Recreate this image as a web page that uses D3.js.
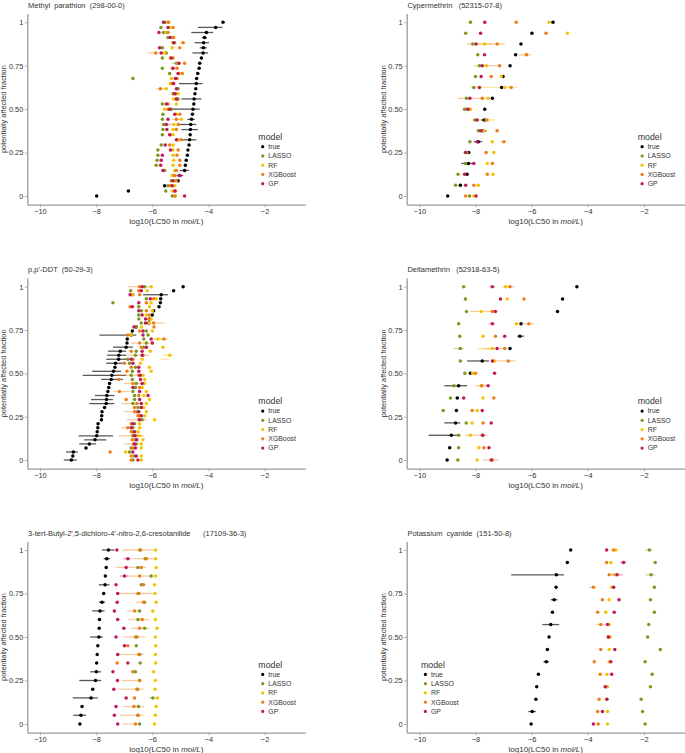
<!DOCTYPE html>
<html><head><meta charset="utf-8">
<script src="https://cdn.jsdelivr.net/npm/d3@7"></script>
<style>
body{margin:0;background:#fff}
text{font-family:"Liberation Sans",Arial,sans-serif}
</style>
</head><body>
<svg id="c" width="685" height="753"></svg>
<script>
// ---------- shared ----------
const models = ["true","LASSO","RF","XGBoost","GP"];
const modelColors = ["#000000","#7a9a1e","#f5c400","#f07e18","#c2185b"];
const xTicks = [-10,-8,-6,-4,-2];
const yTicks = [0,0.25,0.5,0.75,1];
const yTickLabels = ["0","0.25","0.50","0.75","1"];
const xDomain = [-10,-1];
const yDomain = [0,1];

// ---------- panel 1: Methyl parathion (rows listed top -> bottom) ----------
const p1_title = "Methyl  parathion  (298-00-0)";
const p1_true  = [-3.48,-3.74,-4.07,-4.14,-4.17,-4.18,-4.19,-4.25,-4.31,-4.33,-4.38,-4.42,-4.43,-4.45,-4.48,-4.51,-4.52,-4.55,-4.57,-4.60,-4.63,-4.64,-4.65,-4.67,-4.69,-4.73,-4.75,-4.79,-4.82,-4.85,-5.02,-5.08,-5.56,-6.85,-7.98];
const p1_lasso = [-5.54,-5.69,-5.60,-5.44,-5.20,-5.64,-5.50,-5.64,-5.14,-5.64,-5.38,-6.69,-5.26,-5.08,-5.26,-5.08,-5.64,-5.32,-5.62,-5.64,-5.60,-5.62,-5.64,-5.08,-5.68,-5.80,-5.80,-5.83,-5.86,-5.56,-5.26,-5.32,-5.44,-5.52,-5.29];
const p1_rf    = [-5.44,-5.38,-5.50,-5.26,-5.26,-5.29,-5.56,-5.36,-5.08,-5.29,-5.05,-5.32,-5.35,-5.50,-5.08,-5.24,-5.14,-5.56,-5.14,-4.96,-5.23,-5.26,-5.26,-5.08,-5.26,-5.26,-5.26,-5.24,-5.26,-5.20,-5.29,-5.17,-5.20,-5.29,-5.17];
const p1_xgb   = [-5.42,-5.26,-5.44,-5.24,-4.90,-5.02,-5.88,-5.26,-4.85,-5.12,-4.93,-5.12,-5.29,-5.71,-5.17,-5.14,-5.44,-5.44,-5.02,-5.14,-5.08,-5.14,-5.36,-4.96,-5.38,-5.08,-5.12,-5.02,-5.02,-5.14,-5.20,-5.14,-5.36,-5.17,-5.20];
const p1_gp    = [-5.60,-5.44,-5.76,-5.36,-5.24,-5.74,-5.68,-5.33,-5.05,-5.26,-5.08,-5.17,-5.24,-5.14,-5.20,-5.14,-5.50,-5.38,-5.20,-5.44,-5.50,-5.48,-5.38,-5.14,-5.54,-5.35,-5.64,-5.68,-5.70,-5.62,-5.02,-5.26,-5.29,-5.20,-4.85];
const p1_bars  = [["true",1,-4.37,-3.50],["true",2,-4.61,-3.83],["true",3,-4.23,-4.05],["true",4,-4.49,-3.98],["true",5,-4.31,-4.05],["true",6,-4.57,-4.01],["true",12,-5.05,-4.21],["true",15,-4.96,-4.25],["true",17,-5.38,-4.31],["true",19,-4.75,-4.49],["true",20,-5.08,-4.43],["true",21,-4.96,-4.37],["true",23,-5.08,-4.43],["true",29,-5.02,-4.69],["true",30,-5.14,-4.90],["XGBoost",6,-6.15,-5.56],["XGBoost",4,-5.02,-4.80],["XGBoost",13,-5.85,-5.55],["XGBoost",19,-5.30,-4.98],["GP",20,-5.62,-5.30],["LASSO",8,-5.30,-5.00],["RF",10,-5.15,-4.95],["GP",11,-5.25,-5.05]];

// ---------- panel 2: Cypermethrin ----------
const p2_title = "Cypermethrin   (52315-07-8)";
const p2_true  = [-5.24,-5.99,-6.38,-6.57,-6.77,-7.02,-7.07,-7.40,-7.67,-7.69,-7.73,-7.90,-8.24,-8.25,-8.30,-8.54,-8.99];
const p2_lasso = [-8.18,-8.35,-8.10,-7.92,-7.86,-8.00,-8.06,-8.32,-8.39,-8.02,-7.90,-8.20,-8.30,-8.36,-8.62,-8.71,-8.21];
const p2_rf    = [-5.38,-4.73,-7.68,-6.20,-7.61,-7.08,-6.95,-7.55,-8.18,-7.58,-7.70,-7.40,-7.35,-7.58,-7.37,-7.90,-8.06];
const p2_xgb   = [-6.55,-5.49,-7.23,-6.18,-7.14,-7.44,-6.73,-7.76,-8.24,-7.62,-7.23,-6.99,-7.62,-7.40,-7.58,-8.06,-8.35];
const p2_gp    = [-7.67,-7.82,-7.98,-7.68,-7.76,-7.80,-7.86,-8.20,-8.28,-7.94,-7.82,-7.94,-8.36,-8.06,-8.39,-8.35,-7.98];
const p2_bars  = [["XGBoost",2,-8.30,-6.96],["RF",2,-8.00,-7.40],["XGBoost",3,-6.45,-6.01],["XGBoost",4,-8.06,-7.11],["RF",6,-8.20,-6.51],["XGBoost",7,-8.63,-7.46],["RF",9,-8.18,-7.29],["true",9,-7.80,-7.55],["true",10,-7.85,-7.60],["true",11,-8.06,-7.76],["XGBoost",11,-7.10,-6.90],["true",13,-8.51,-8.06]];

// ---------- panel 3: p,p'-DDT ----------
const p3_title = "p,p'-DDT  (50-29-3)";
const p3_true  = [-4.90,-5.24,-5.68,-5.70,-5.71,-5.76,-5.95,-6.00,-6.10,-6.12,-6.57,-6.71,-6.75,-6.89,-6.90,-6.93,-7.14,-7.19,-7.20,-7.31,-7.33,-7.38,-7.44,-7.46,-7.52,-7.55,-7.58,-7.62,-7.63,-7.64,-7.70,-7.79,-7.80,-7.81,-7.93,-7.94,-7.96,-7.98,-8.04,-8.24,-8.36,-8.81,-8.83,-8.88];
const p3_lasso = [-6.27,-6.77,-6.69,-6.21,-7.40,-6.48,-6.39,-6.48,-6.48,-6.39,-6.57,-6.21,-6.15,-6.30,-6.21,-6.31,-6.57,-6.60,-6.87,-6.81,-6.60,-6.71,-6.75,-6.71,-6.57,-6.60,-6.69,-6.63,-6.63,-6.69,-6.51,-6.54,-6.45,-6.36,-6.63,-6.69,-6.69,-6.69,-6.60,-6.57,-6.75,-6.81,-6.63,-6.69];
const p3_rf    = [-6.04,-6.18,-6.71,-5.86,-6.04,-6.10,-6.00,-6.21,-6.04,-6.10,-6.39,-6.00,-6.75,-5.80,-6.00,-5.62,-6.07,-5.38,-6.36,-6.42,-6.10,-6.04,-6.33,-6.27,-6.27,-6.36,-6.21,-6.30,-6.10,-6.21,-6.30,-6.21,-6.27,-5.92,-6.45,-6.45,-6.51,-6.45,-6.33,-6.39,-6.39,-6.95,-6.39,-6.39];
const p3_xgb   = [-6.45,-6.48,-6.45,-5.95,-6.21,-6.79,-6.21,-6.10,-6.12,-5.95,-5.94,-6.45,-6.87,-5.58,-6.45,-6.39,-6.75,-6.33,-6.69,-6.99,-6.75,-6.90,-6.48,-7.19,-6.69,-6.45,-7.17,-6.48,-6.93,-6.55,-6.63,-6.63,-6.51,-6.48,-6.75,-6.87,-6.75,-6.57,-6.71,-6.67,-6.69,-7.50,-6.75,-6.75];
const p3_gp    = [-6.36,-6.39,-6.79,-6.07,-6.48,-6.71,-6.48,-6.36,-6.24,-6.24,-6.65,-6.33,-6.33,-6.04,-6.00,-6.21,-6.36,-6.36,-6.75,-6.69,-6.48,-6.48,-6.43,-6.42,-6.36,-6.69,-6.45,-6.15,-6.45,-6.39,-6.39,-6.48,-6.39,-6.45,-6.69,-6.75,-6.63,-6.63,-6.55,-6.63,-6.60,-6.69,-6.57,-6.51];
const p3_bars  = [["true",2,-6.33,-5.44],["true",12,-7.88,-6.57],["true",15,-7.40,-6.69],["true",16,-7.58,-6.93],["true",17,-7.61,-6.93],["true",18,-7.64,-6.81],["true",19,-7.64,-6.99],["true",21,-8.14,-7.11],["true",22,-8.48,-6.93],["true",23,-7.82,-7.05],["true",27,-8.04,-7.35],["true",28,-8.18,-7.40],["true",29,-8.24,-7.35],["true",37,-8.62,-7.40],["true",38,-8.42,-7.64],["true",39,-8.60,-8.00],["true",41,-9.07,-8.65],["true",43,-9.15,-8.69],
  ["XGBoost",0,-6.87,-6.04],["XGBoost",9,-6.21,-5.56],["XGBoost",13,-5.95,-5.45],["RF",17,-5.62,-5.26],["XGBoost",14,-6.75,-6.10],["XGBoost",22,-7.29,-6.33],["XGBoost",17,-6.95,-6.10],["XGBoost",26,-7.40,-6.80],["XGBoost",29,-7.10,-6.30],["XGBoost",33,-6.90,-6.20],["XGBoost",35,-7.10,-6.60],["XGBoost",37,-7.20,-6.30],["XGBoost",39,-7.00,-6.40],["XGBoost",31,-7.00,-6.40],["XGBoost",24,-7.00,-6.40],["RF",13,-6.00,-5.60],["RF",18,-5.70,-5.40]];

// ---------- panel 4: Deltamethrin ----------
const p4_title = "Deltamethrin   (52918-63-5)";
const p4_true  = [-4.39,-4.90,-5.08,-6.38,-6.42,-6.77,-7.76,-8.18,-8.60,-8.65,-8.68,-8.71,-8.86,-8.92,-9.01];
const p4_lasso = [-8.42,-8.36,-8.32,-8.60,-8.56,-8.54,-8.54,-8.38,-8.77,-8.89,-9.15,-8.33,-8.60,-8.60,-8.63];
const p4_rf    = [-6.93,-6.87,-7.80,-6.54,-7.73,-7.40,-7.32,-8.10,-7.80,-7.73,-7.94,-8.12,-8.18,-7.88,-7.94];
const p4_xgb   = [-6.77,-6.27,-7.40,-6.10,-7.29,-6.96,-6.83,-8.00,-7.78,-7.35,-8.12,-7.73,-7.76,-7.70,-7.40];
const p4_gp    = [-7.40,-7.11,-7.29,-7.40,-6.96,-7.23,-7.40,-7.32,-7.55,-8.42,-7.76,-7.44,-7.74,-7.52,-7.44];
const p4_bars  = [["true",6,-8.30,-7.52],["true",8,-9.11,-8.30],["true",11,-9.11,-8.54],["true",12,-9.67,-8.60],["true",4,-6.51,-6.27],["XGBoost",0,-7.05,-6.61],["XGBoost",2,-8.20,-7.23],["XGBoost",3,-6.33,-5.92],["XGBoost",5,-7.70,-6.87],["XGBoost",6,-7.35,-6.57],["RF",5,-7.94,-7.35],["XGBoost",8,-8.00,-7.58],["XGBoost",12,-8.36,-7.58],["XGBoost",14,-7.73,-7.17],["LASSO",5,-8.77,-8.42],["LASSO",8,-8.90,-8.65],["GP",0,-7.50,-7.30],["GP",3,-7.52,-7.30]];

// ---------- panel 5: 3-tert-Butyl-... ----------
const p5_title = "3-tert-Butyl-2',5-dichloro-4'-nitro-2,6-cresotanilide      (17109-36-3)";
const p5_true  = [-7.56,-7.62,-7.64,-7.67,-7.68,-7.73,-7.79,-7.86,-7.88,-7.89,-7.90,-7.94,-7.96,-7.98,-7.99,-8.02,-8.12,-8.18,-8.50,-8.54,-8.58];
const p5_lasso = [-6.42,-6.25,-6.51,-6.04,-6.39,-6.48,-6.28,-6.45,-6.51,-6.27,-6.55,-6.57,-6.45,-6.43,-6.60,-6.45,-6.52,-5.98,-6.49,-6.51,-6.45];
const p5_rf    = [-5.88,-5.88,-5.86,-5.88,-5.92,-5.90,-5.86,-5.98,-5.89,-5.83,-5.89,-5.88,-5.89,-5.88,-5.95,-5.89,-5.90,-5.82,-5.86,-5.89,-5.92];
const p5_xgb   = [-6.45,-6.21,-6.39,-6.45,-6.31,-6.51,-6.31,-6.63,-6.36,-6.45,-6.60,-6.87,-6.48,-7.25,-6.69,-6.45,-6.55,-6.63,-6.65,-6.51,-6.60];
const p5_gp    = [-7.26,-6.87,-6.93,-6.99,-7.29,-7.23,-7.25,-7.35,-7.23,-7.01,-7.29,-6.99,-7.23,-6.87,-7.40,-7.24,-7.37,-6.93,-7.29,-7.35,-7.23];
const p5_bars  = [["true",0,-7.79,-7.35],["true",1,-7.73,-7.50],["true",4,-7.90,-7.52],["true",6,-7.90,-7.68],["true",7,-8.14,-7.70],["true",10,-8.21,-7.76],["true",14,-8.21,-7.82],["true",15,-8.60,-7.82],["true",17,-8.83,-7.94],["true",19,-8.81,-8.36],
  ["XGBoost",0,-7.05,-5.86],["XGBoost",1,-6.69,-5.86],["XGBoost",2,-7.29,-6.21],["XGBoost",3,-6.90,-6.20],["XGBoost",5,-7.17,-5.98],["XGBoost",6,-6.60,-6.20],["XGBoost",7,-6.90,-6.40],["XGBoost",8,-6.85,-6.10],["XGBoost",9,-6.75,-6.10],["XGBoost",10,-7.05,-6.25],["XGBoost",12,-7.20,-6.30],["XGBoost",15,-7.10,-6.40],["XGBoost",16,-7.20,-6.30],["XGBoost",18,-7.05,-6.30],["XGBoost",19,-7.15,-6.30],["XGBoost",20,-7.05,-6.40],
  ["GP",1,-7.03,-6.75],["GP",3,-7.15,-6.85],["LASSO",3,-6.20,-5.95],["LASSO",17,-6.10,-5.85]];

// ---------- panel 6: Potassium cyanide ----------
const p6_title = "Potassium  cyanide  (151-50-8)";
const p6_true  = [-4.61,-4.73,-5.12,-5.13,-5.20,-5.26,-5.32,-5.38,-5.44,-5.48,-5.76,-5.82,-5.85,-5.98,-6.02];
const p6_lasso = [-1.81,-1.60,-1.75,-1.63,-1.77,-1.63,-1.83,-1.87,-1.42,-1.96,-1.71,-1.77,-2.10,-2.05,-1.96];
const p6_rf    = [-3.00,-3.18,-3.06,-3.15,-3.24,-3.36,-3.24,-3.20,-3.24,-3.24,-3.32,-3.30,-3.33,-3.30,-3.30];
const p6_xgb   = [-3.08,-3.33,-3.24,-3.80,-3.48,-3.65,-3.54,-3.28,-3.54,-3.77,-3.56,-3.36,-3.60,-3.65,-3.63];
const p6_gp    = [-3.33,-2.73,-2.96,-3.08,-2.89,-3.06,-3.30,-3.26,-3.04,-3.18,-3.15,-3.38,-3.32,-3.48,-3.80];
const p6_bars  = [["true",2,-6.73,-4.85],["true",6,-5.62,-5.02],["true",4,-5.32,-5.08],["true",9,-5.58,-5.38],["true",13,-6.12,-5.85],["XGBoost",3,-3.95,-3.70],["XGBoost",6,-3.70,-3.40],["XGBoost",0,-3.20,-2.95],["LASSO",0,-1.95,-1.70],["LASSO",2,-1.95,-1.60],["GP",2,-3.20,-2.75],["GP",1,-2.85,-2.62]];

const panels = [
  {title:p1_title, series:[p1_true,p1_lasso,p1_rf,p1_xgb,p1_gp], bars:p1_bars, legendSide:"right"},
  {title:p2_title, series:[p2_true,p2_lasso,p2_rf,p2_xgb,p2_gp], bars:p2_bars, legendSide:"right"},
  {title:p3_title, series:[p3_true,p3_lasso,p3_rf,p3_xgb,p3_gp], bars:p3_bars, legendSide:"right"},
  {title:p4_title, series:[p4_true,p4_lasso,p4_rf,p4_xgb,p4_gp], bars:p4_bars, legendSide:"right"},
  {title:p5_title, series:[p5_true,p5_lasso,p5_rf,p5_xgb,p5_gp], bars:p5_bars, legendSide:"right"},
  {title:p6_title, series:[p6_true,p6_lasso,p6_rf,p6_xgb,p6_gp], bars:p6_bars, legendSide:"left"}
];

// ---------- layout ----------
const colX = [27.3, 406.7];
const rowY = [[13.6,204.7],[278,468.7],[541.3,732.7]];
const panelW = 278;
const axisGray = "#9a9a9a";
const textGray = "#333";

const svg = d3.select("#c");
svg.append("rect").attr("width",685).attr("height",753).attr("fill","#fff");

panels.forEach((p,k)=>{
  const x0 = colX[k%2];
  const [yt,yb] = rowY[Math.floor(k/2)];
  const ex = (xDomain[1]-xDomain[0])*0.05, ey = (yDomain[1]-yDomain[0])*0.05;
  const x = d3.scaleLinear().domain([xDomain[0]-ex, xDomain[1]+ex]).range([x0, x0+panelW]);
  const y = d3.scaleLinear().domain([yDomain[0]-ey, yDomain[1]+ey]).range([yb, yt]);
  const g = svg.append("g");
  const n = p.series[0].length;
  const frac = i => 1 - i/(n-1);

  // axes
  const gx = g.append("g").attr("transform",`translate(0,${yb})`)
    .call(d3.axisBottom(x).tickValues(xTicks).tickSize(2.5).tickSizeOuter(0).tickPadding(2));
  const gy = g.append("g").attr("transform",`translate(${x0},0)`)
    .call(d3.axisLeft(y).tickValues(yTicks).tickSize(2.5).tickSizeOuter(0).tickPadding(1.5)
      .tickFormat((d,i)=>yTickLabels[i]));
  [gx,gy].forEach(a=>{
    a.select(".domain").attr("stroke",axisGray).attr("stroke-width",1.3);
    a.selectAll(".tick line").attr("stroke",axisGray).attr("stroke-width",0.8);
    a.selectAll(".tick text").attr("fill",textGray).style("font-family","'Liberation Sans',Arial,sans-serif").style("font-size","7.4px");
  });

  // titles
  g.append("text").attr("x",x0+0.7).attr("y",yt-5.8)
    .style("white-space","pre").style("font-size","7.5px").attr("fill",textGray).text(p.title);
  const xt = g.append("text").attr("x",x0+panelW/2).attr("y",yb+18.8)
    .attr("text-anchor","middle").style("font-size","8px").attr("fill",textGray);
  xt.append("tspan").text("log10(LC50 in ");
  xt.append("tspan").style("font-style","italic").text("mol/L");
  xt.append("tspan").text(")");
  g.append("text").attr("transform",`translate(${x0-21},${(yt+yb)/2}) rotate(-90)`)
    .attr("text-anchor","middle").style("font-size","7.4px").attr("fill",textGray)
    .text("potentially affected fraction");

  // error bars
  p.bars.forEach(b=>{
    const si = models.indexOf(b[0]);
    g.append("line")
      .attr("x1",x(b[2])).attr("x2",x(b[3]))
      .attr("y1",y(frac(b[1]))).attr("y2",y(frac(b[1])))
      .attr("stroke", si===0 ? "#222" : modelColors[si])
      .attr("stroke-opacity", si===0 ? 0.75 : 0.4)
      .attr("stroke-width",1.3);
  });

  // points
  p.series.forEach((vals,si)=>{
    g.append("g").selectAll("circle").data(vals).join("circle")
      .attr("cx",d=>x(d)).attr("cy",(d,i)=>y(frac(i)))
      .attr("r",1.75).attr("fill",modelColors[si]);
  });

  // legend
  const lx = p.legendSide==="right" ? x0+231 : x0+14.3;
  const ly = yt + 123.4;
  const lg = g.append("g").attr("transform",`translate(${lx},${ly})`);
  lg.append("text").attr("x",0).attr("y",3).style("font-size","8.8px").attr("fill",textGray).text("model");
  models.forEach((m,i)=>{
    const yy = 9.7 + i*9.25;
    lg.append("circle").attr("cx",4.4).attr("cy",yy).attr("r",1.6).attr("fill",modelColors[i]);
    lg.append("text").attr("x",10).attr("y",yy+2.4).style("font-size","6.9px").attr("fill",textGray).text(m);
  });
});
</script>
</body></html>
